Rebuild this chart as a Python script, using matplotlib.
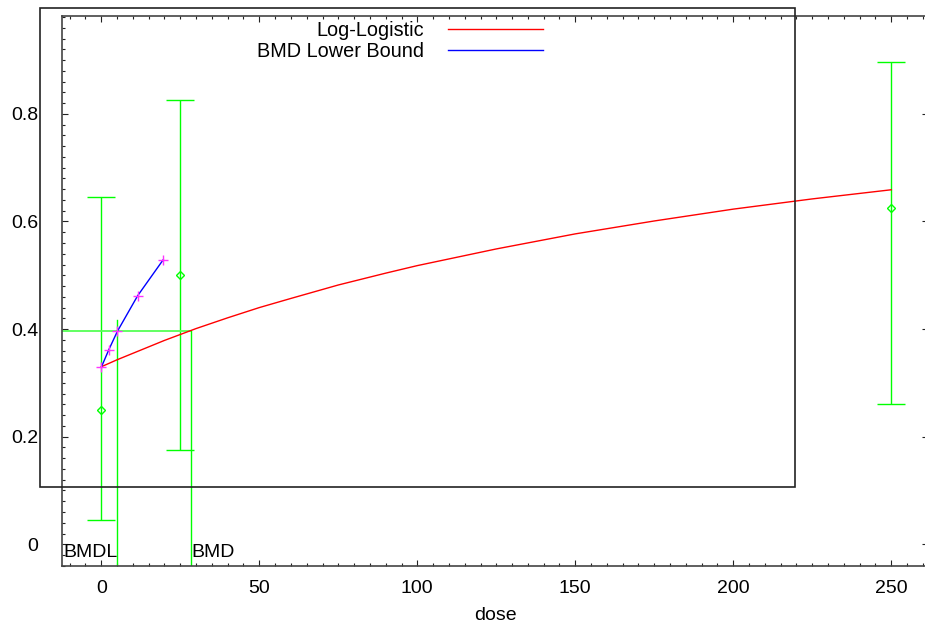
import matplotlib
matplotlib.use('Agg')
import matplotlib.pyplot as plt
from matplotlib.patches import Rectangle
from matplotlib.ticker import MultipleLocator

plt.rcParams['font.family'] = ['Liberation Sans', 'DejaVu Sans']

# ------------------------------
# Data
# ------------------------------
dose = [0, 25, 250]
mean_resp = [0.25, 0.50, 0.625]
ci_low = [0.045, 0.175, 0.26]
ci_high = [0.645, 0.826, 0.897]

# fitted log-logistic curve
curve_dose = [0, 5, 10, 15, 20, 25, 30, 40, 50, 60, 75, 90, 100,
              125, 150, 175, 200, 225, 250]
curve_resp = [0.330, 0.343, 0.355, 0.367, 0.379, 0.390, 0.401, 0.421, 0.440,
              0.457, 0.482, 0.504, 0.518, 0.549, 0.577, 0.601, 0.623, 0.642, 0.659]

# BMD lower bound curve
bound_dose = [0, 2.4, 5.1, 11.5, 19.6]
bound_resp = [0.329, 0.362, 0.396, 0.462, 0.529]

BMD = 28.4
BMDL = 5.1
BMR_LEVEL = 0.397
BMDL_TOP = 0.417

GREEN = '#00ff00'
W, H = 925, 624

# ------------------------------
# Figure
# ------------------------------
fig = plt.figure(figsize=(W / 100, H / 100), dpi=100)
left_px, right_px, top_px, bot_px = 62, 928, 15.7, 566
ax = fig.add_axes([left_px / W, 1 - bot_px / H,
                   (right_px - left_px) / W, (bot_px - top_px) / H])

ax.plot(curve_dose, curve_resp, color='#ff0000', lw=1, label='Log-Logistic', zorder=3)
ax.plot(bound_dose, bound_resp, color='#0000ff', lw=1, label='BMD Lower Bound', zorder=3)
ax.plot(bound_dose, bound_resp, ls='none', marker='+', ms=7, mew=1,
        color='#ff33ff', zorder=4)

ax.errorbar(dose, mean_resp,
            yerr=[[m - l for m, l in zip(mean_resp, ci_low)],
                  [h - m for m, h in zip(mean_resp, ci_high)]],
            fmt='D', ms=4, mfc='none', mec=GREEN, mew=1,
            ecolor=GREEN, elinewidth=1, capsize=10, capthick=1, zorder=2)

# BMD / BMDL markers
ax.plot([-20, BMD], [BMR_LEVEL, BMR_LEVEL], color='#55ff55', lw=1.3, zorder=2)
ax.plot([BMD, BMD], [-1, BMR_LEVEL], color=GREEN, lw=1, zorder=2)
ax.plot([BMDL, BMDL], [-1, BMDL_TOP], color=GREEN, lw=1, zorder=2)
ax.text(BMDL, -0.024, 'BMDL', ha='right', va='baseline', fontsize=14)
ax.text(BMD + 0.2, -0.024, 'BMD', ha='left', va='baseline', fontsize=14)

ax.set_xlim((left_px - 101.3) / 3.16, (right_px - 101.3) / 3.16)
ax.set_ylim((544.3 - bot_px) / 538, (544.3 - top_px) / 538)

ax.xaxis.set_major_locator(MultipleLocator(50))
ax.xaxis.set_minor_locator(MultipleLocator(5))
ax.yaxis.set_major_locator(MultipleLocator(0.2))
ax.yaxis.set_minor_locator(MultipleLocator(0.02))
ax.yaxis.set_major_formatter(plt.FuncFormatter(lambda v, p: f"{v:g}" if abs(v) > 1e-9 else "0"))

ax.tick_params(which='both', direction='in', top=True, right=True,
               color='#222222', width=0.8, labelsize=14)
ax.tick_params(which='major', length=4.3)
ax.tick_params(which='minor', length=2.2)
ax.tick_params(axis='y', pad=17)
ax.tick_params(axis='x', pad=10)
for s in ax.spines.values():
    s.set_color('#444444')
    s.set_linewidth(1.2)

ax.set_xlabel('dose', fontsize=14, labelpad=7)

ax.legend(loc='upper right', bbox_to_anchor=(543 / W, 1 - 21 / H),
          bbox_transform=fig.transFigure,
          frameon=False, markerfirst=False, fontsize=14.3,
          handlelength=4.8, handletextpad=1.2, labelspacing=0.12,
          borderpad=0, borderaxespad=0)

# stray outer box over the plot
fig.patches.append(Rectangle((39.5 / W, 1 - 487 / H), (795 - 39.5) / W,
                             (487 - 8.3) / H, transform=fig.transFigure,
                             fill=False, edgecolor='#222222', lw=1.2, zorder=10))

fig.savefig('out.png', dpi=100)
